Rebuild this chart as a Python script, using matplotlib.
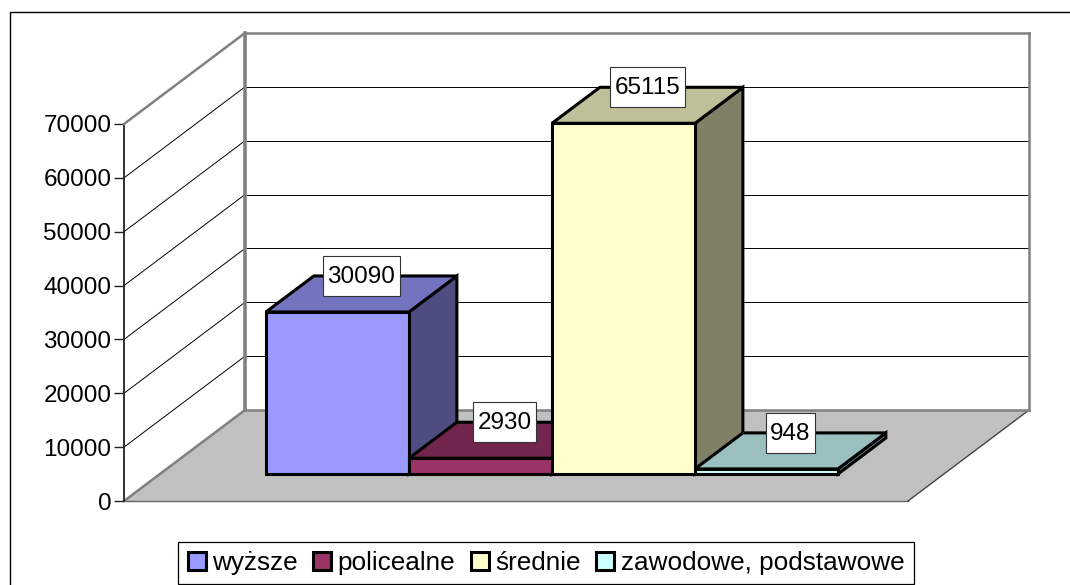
import matplotlib
matplotlib.use('Agg')
import matplotlib.pyplot as plt
from matplotlib.patches import Patch, Polygon, Rectangle

plt.rcParams['font.family'] = ['Liberation Sans', 'DejaVu Sans']

# Dane
categories = ['wyższe', 'policealne', 'średnie', 'zawodowe, podstawowe']
values = [30090, 2930, 65115, 948]
y_ticks = [0, 10000, 20000, 30000, 40000, 50000, 60000, 70000]

front_colors = ['#9999FF', '#993366', '#FFFFCC', '#CCFFFF']
top_colors = ['#7373BF', '#73264D', '#BFBF99', '#99BFBF']
side_colors = ['#4D4D80', '#4D1A33', '#808066', '#668080']

W, H = 1070, 585
BAR_PX = 143.0      # szerokosc slupka w pikselach
UNIT_PX = 377.0 / 70000
LEFT_PX, ZERO_PX = 266.0, 501.0

fig = plt.figure(figsize=(W / 100, H / 100), dpi=100)
ax = fig.add_axes([0, 0, 1, 1])
ax.set_xlim(-LEFT_PX / BAR_PX, (W - LEFT_PX) / BAR_PX)
ax.set_ylim(-(H - ZERO_PX) / UNIT_PX, ZERO_PX / UNIT_PX)

# Glebokosc: przesuniecie w jednostkach osi
DEPTH_X = 121.0 / BAR_PX
DEPTH_Y = 91.0 * 70000 / 377.0
WALL_X0 = (124 - LEFT_PX) / BAR_PX
WALL_X1 = (908 - LEFT_PX) / BAR_PX
BAR_Z0 = 27.0 / 91
BAR_Z1 = BAR_Z0 + 36.0 / 91
SHIFT = BAR_Z0 * DEPTH_X    # slupki zaczynaja sie w x=0 na swojej glebokosci


def proj(x, y, z):
    return (x + z * DEPTH_X, y + z * DEPTH_Y)


def poly(points, color, edge='none', lw=0.0, z=1):
    ax.add_patch(Polygon([proj(*p) for p in points], closed=True, facecolor=color,
                         edgecolor=edge, linewidth=lw, zorder=z, joinstyle='miter'))


def seg(a, b, color, lw, z=2):
    pa, pb = proj(*a), proj(*b)
    ax.plot([pa[0], pb[0]], [pa[1], pb[1]], color=color, linewidth=lw, zorder=z,
            solid_capstyle='projecting')


# Podloga
poly([(WALL_X0, 0, 0), (WALL_X1, 0, 0), (WALL_X1, 0, 1), (WALL_X0, 0, 1)], '#C0C0C0')
seg((WALL_X0, 0, 0), (WALL_X1, 0, 0), '#666666', 1.0)
seg((WALL_X1, 0, 0), (WALL_X1, 0, 1), '#444444', 1.0)
seg((WALL_X0, 0, 0), (WALL_X0, 0, 1), '#808080', 1.8)

# Siatka
for t in y_ticks[1:-1]:
    seg((WALL_X0, t, 0), (WALL_X0, t, 1), 'black', 0.7)
    seg((WALL_X0, t, 1), (WALL_X1, t, 1), 'black', 0.7)

# Obwod sciany
top = y_ticks[-1]
seg((WALL_X0, top, 0), (WALL_X0, top, 1), '#808080', 1.8, 3)
seg((WALL_X0, top, 1), (WALL_X1, top, 1), '#808080', 1.8, 3)
seg((WALL_X0, 0, 1), (WALL_X1, 0, 1), '#808080', 1.8, 3)
seg((WALL_X0, 0, 1), (WALL_X0, top, 1), '#808080', 2.6, 3)
seg((WALL_X1, 0, 1), (WALL_X1, top, 1), '#808080', 1.8, 3)

# Slupki
for i, v in enumerate(values):
    x0, x1 = i - SHIFT, i + 1 - SHIFT
    z = 5 + i
    poly([(x1, 0, BAR_Z0), (x1, 0, BAR_Z1), (x1, v, BAR_Z1), (x1, v, BAR_Z0)],
         side_colors[i], 'black', 2.2, z)
    poly([(x0, v, BAR_Z0), (x1, v, BAR_Z0), (x1, v, BAR_Z1), (x0, v, BAR_Z1)],
         top_colors[i], 'black', 2.2, z)
    poly([(x0, 0, BAR_Z0), (x1, 0, BAR_Z0), (x1, v, BAR_Z0), (x0, v, BAR_Z0)],
         front_colors[i], 'black', 2.2, z)

# Etykiety wartosci: ramka szersza od tekstu o stala liczbe pikseli
renderer = fig.canvas.get_renderer()
for i, v in enumerate(values):
    ly = proj(i, v, BAR_Z1)[1]
    lx = proj(i + 0.5 - SHIFT, v, (BAR_Z0 + BAR_Z1) / 2)[0]
    t = ax.text(lx, ly - 1 / UNIT_PX, str(v), fontsize=17.5, ha='center', va='center', zorder=21)
    box_w = (t.get_window_extent(renderer).width + 9) / BAR_PX
    box_h = 40 / UNIT_PX
    ax.add_patch(Rectangle((lx - box_w / 2, ly - box_h / 2), box_w, box_h, facecolor='white',
                           edgecolor='#333333', linewidth=0.8, zorder=20))

# Os Y
for name in ['top', 'right', 'bottom']:
    ax.spines[name].set_visible(False)
ax.spines['left'].set_position(('data', WALL_X0))
ax.spines['left'].set_bounds(0, top)
ax.spines['left'].set_linewidth(1.3)
ax.spines['left'].set_color('#222222')
ax.set_xticks([])
ax.set_yticks(y_ticks)
ax.tick_params(axis='y', length=7, width=1.0, labelsize=17.5, pad=2, color='#222222')
ax.patch.set_alpha(0)

# Ramka wykresu
fig.add_artist(Rectangle((10 / W, -0.1), 1.2, 1.1 - 12 / H, transform=fig.transFigure,
                         fill=False, edgecolor='black', linewidth=1.0))

# Legenda
handles = [Patch(facecolor=c, edgecolor='black', linewidth=2.2) for c in front_colors]
leg = ax.legend(handles, categories, loc='center', ncol=4, fontsize=18.8,
                bbox_to_anchor=(546 / W, 1 - 563 / H), bbox_transform=fig.transFigure,
                frameon=True, fancybox=False, framealpha=1, edgecolor='black',
                handlelength=0.68, handleheight=0.68, handletextpad=0.25,
                columnspacing=0.6, borderpad=0.36, borderaxespad=0)
leg.get_frame().set_linewidth(0.9)

fig.savefig('out.png', dpi=100)
